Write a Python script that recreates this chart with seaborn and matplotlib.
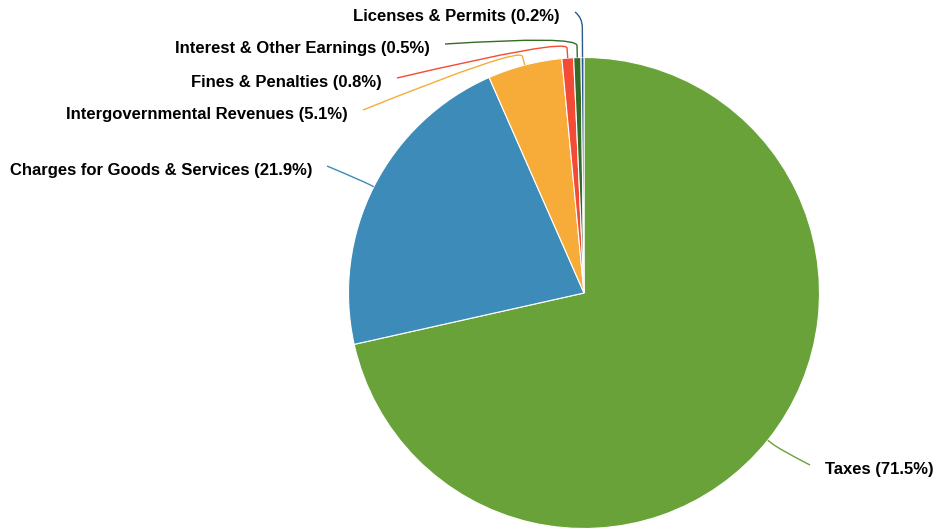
import numpy as np
import matplotlib
matplotlib.use("Agg")
import matplotlib.pyplot as plt
from matplotlib.path import Path
from matplotlib.patches import PathPatch
import seaborn as sns

# revenue sources, clockwise from 12 o'clock
categories = ["Taxes", "Charges for Goods & Services", "Intergovernmental Revenues",
              "Fines & Penalties", "Interest & Other Earnings", "Licenses & Permits"]
shares = [71.5, 21.9, 5.1, 0.8, 0.5, 0.2]
colors = ["#6aa23a", "#3d8bb8", "#f7ab38", "#f44b36", "#356b26", "#2e5a8c"]

# label layout (pixels from top-left): end of connector, radial lead length
conn_end = [(810, 465), (327, 166), (363, 110), (397, 78), (445, 44), (575, 12)]
lead = [4, 4, 9, 10, 12, 30]
label_gap = 15

W, H = 936, 529
center = (584, 293)
radius = 235.5

sns.set_theme(style="white")
plt.rcParams["font.family"] = ["Liberation Sans", "DejaVu Sans"]

fig = plt.figure(figsize=(W / 100, H / 100), dpi=100)
ax = fig.add_axes([0, 0, 1, 1])

# y axis is inverted below, so counterclock in data = clockwise on screen
wedges, _ = ax.pie(shares, colors=colors, startangle=-90, counterclock=True,
                   center=center, radius=radius,
                   wedgeprops=dict(edgecolor="white", linewidth=0.8))

for w, name, val, col, end, ld in zip(wedges, categories, shares, colors, conn_end, lead):
    mid = np.deg2rad((w.theta1 + w.theta2) / 2)
    d = np.array([np.cos(mid), np.sin(mid)])
    a = np.array(center) + radius * d
    b = a + ld * d
    q = b + 10 * d
    c = np.array(end, dtype=float)
    path = Path([a, b, q, c], [Path.MOVETO, Path.LINETO, Path.CURVE3, Path.CURVE3])
    ax.add_patch(PathPatch(path, facecolor="none", edgecolor=col, lw=1.0))
    right = c[0] > center[0]
    tx = c[0] + label_gap if right else c[0] - label_gap
    ax.text(tx, c[1] + 4.5, f"{name} ({val}%)", ha="left" if right else "right",
            va="center", fontsize=12, fontweight="bold", color="black")

ax.set_xlim(0, W)
ax.set_ylim(H, 0)
ax.set_aspect("auto")
ax.axis("off")

fig.savefig("out.png", dpi=100, facecolor="white")
